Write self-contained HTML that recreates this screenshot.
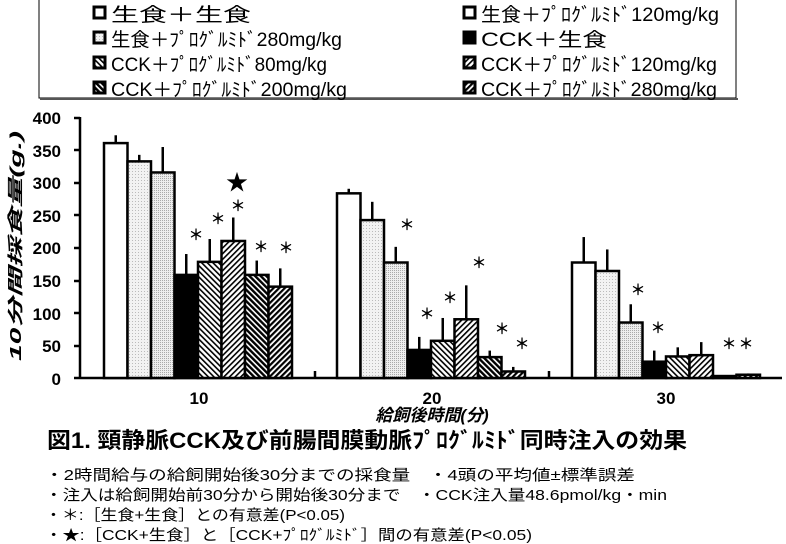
<!DOCTYPE html>
<html><head><meta charset="utf-8"><style>
body{margin:0;background:#fff;width:786px;height:544px;overflow:hidden}
svg{display:block}
text{font-family:"Liberation Sans","Noto Sans CJK JP",sans-serif;fill:#000}
</style></head><body>
<svg width="786" height="544" viewBox="0 0 786 544" xmlns="http://www.w3.org/2000/svg">
<defs>
<pattern id="d1" width="3" height="3" patternUnits="userSpaceOnUse"><rect width="3" height="3" fill="#f2f2f2"/><rect width="1" height="1" fill="#bbb"/></pattern>
<pattern id="d2" width="2" height="2" patternUnits="userSpaceOnUse"><rect width="2" height="2" fill="#eee"/><rect width="1" height="1" fill="#aaa"/></pattern>
<pattern id="h1" width="4" height="4" patternUnits="userSpaceOnUse" patternTransform="rotate(-45)"><rect width="4" height="4" fill="#fff"/><rect width="1.6" height="4" fill="#000"/></pattern>
<pattern id="h2" width="4" height="4" patternUnits="userSpaceOnUse" patternTransform="rotate(45)"><rect width="4" height="4" fill="#fff"/><rect width="1.6" height="4" fill="#000"/></pattern>
<pattern id="h3" width="4" height="4" patternUnits="userSpaceOnUse" patternTransform="rotate(-45)"><rect width="4" height="4" fill="#fff"/><rect width="2.4" height="4" fill="#000"/></pattern>
<pattern id="h4" width="4" height="4" patternUnits="userSpaceOnUse" patternTransform="rotate(45)"><rect width="4" height="4" fill="#fff"/><rect width="2.2" height="4" fill="#000"/></pattern>
</defs>
<!-- legend -->
<rect x="39" y="-2" width="697" height="100" fill="#fff" stroke="#000" stroke-width="1"/>
<line x1="40" y1="99" x2="738" y2="99" stroke="#555" stroke-width="2"/>
<g font-size="19">
<rect x="94" y="7" width="11" height="11" fill="#fff" stroke="#000" stroke-width="3"/>
<text x="111" y="21" textLength="140" lengthAdjust="spacingAndGlyphs">生食＋生食</text>
<rect x="94" y="32" width="11" height="11" fill="url(#d1)" stroke="#000" stroke-width="3"/>
<text x="111" y="46" textLength="231" lengthAdjust="spacingAndGlyphs">生食＋ﾌﾟﾛｸﾞﾙﾐﾄﾞ280mg/kg</text>
<rect x="94" y="57" width="11" height="11" fill="url(#h1)" stroke="#000" stroke-width="3"/>
<text x="111" y="71" textLength="216" lengthAdjust="spacingAndGlyphs">CCK＋ﾌﾟﾛｸﾞﾙﾐﾄﾞ80mg/kg</text>
<rect x="94" y="82" width="11" height="11" fill="url(#h3)" stroke="#000" stroke-width="3"/>
<text x="111" y="96" textLength="236" lengthAdjust="spacingAndGlyphs">CCK＋ﾌﾟﾛｸﾞﾙﾐﾄﾞ200mg/kg</text>
<rect x="464" y="7" width="11" height="11" fill="#fff" stroke="#000" stroke-width="3"/>
<text x="481" y="21" textLength="238" lengthAdjust="spacingAndGlyphs">生食＋ﾌﾟﾛｸﾞﾙﾐﾄﾞ120mg/kg</text>
<rect x="464" y="32" width="11" height="11" fill="#000" stroke="#000" stroke-width="3"/>
<text x="481" y="46" textLength="126" lengthAdjust="spacingAndGlyphs">CCK＋生食</text>
<rect x="464" y="57" width="11" height="11" fill="url(#h2)" stroke="#000" stroke-width="3"/>
<text x="481" y="71" textLength="236" lengthAdjust="spacingAndGlyphs">CCK＋ﾌﾟﾛｸﾞﾙﾐﾄﾞ120mg/kg</text>
<rect x="464" y="82" width="11" height="11" fill="url(#h4)" stroke="#000" stroke-width="3"/>
<text x="481" y="96" textLength="236" lengthAdjust="spacingAndGlyphs">CCK＋ﾌﾟﾛｸﾞﾙﾐﾄﾞ280mg/kg</text>
</g>
<!-- y axis -->
<g font-size="17" font-weight="bold" text-anchor="end">
<text x="61" y="124">400</text><text x="61" y="157">350</text><text x="61" y="189">300</text>
<text x="61" y="222">250</text><text x="61" y="254">200</text><text x="61" y="287">150</text>
<text x="61" y="320">100</text><text x="61" y="352">50</text><text x="61" y="385">0</text>
</g>
<g stroke="#000" stroke-width="2.5">
<line x1="80" y1="117" x2="80" y2="379"/>
<line x1="74" y1="118" x2="80" y2="118"/><line x1="74" y1="150" x2="80" y2="150"/><line x1="74" y1="183" x2="80" y2="183"/>
<line x1="74" y1="215" x2="80" y2="215"/><line x1="74" y1="248" x2="80" y2="248"/><line x1="74" y1="281" x2="80" y2="281"/>
<line x1="74" y1="313" x2="80" y2="313"/><line x1="74" y1="346" x2="80" y2="346"/>
<line x1="74" y1="378" x2="782" y2="378"/>
<line x1="315" y1="371" x2="315" y2="378"/><line x1="549" y1="371" x2="549" y2="378"/>
</g>
<text transform="translate(21,246) rotate(-90)" font-size="16" font-weight="bold" font-style="italic" text-anchor="middle" textLength="230" lengthAdjust="spacingAndGlyphs">10分間採食量(g.)</text>
<g id="bars" stroke="#000" stroke-width="2.5"></g>
<g font-size="17" font-weight="bold" text-anchor="middle">
<text x="199" y="404">10</text><text x="432" y="404">20</text><text x="666" y="404">30</text>
<text x="432" y="421" font-style="italic">給飼後時間(分)</text>
</g>
<g font-size="15" font-weight="bold" text-anchor="middle" font-family="'Noto Sans CJK JP',sans-serif">
<text x="196" y="240">＊</text><text x="218" y="224">＊</text><text x="238" y="211">＊</text><text x="261" y="252">＊</text><text x="286" y="253">＊</text>
<text x="407" y="230">＊</text><text x="427" y="319">＊</text><text x="450" y="303">＊</text><text x="479" y="268">＊</text><text x="502" y="334">＊</text><text x="522" y="349">＊</text>
<text x="638" y="295">＊</text><text x="658" y="333">＊</text><text x="729" y="349">＊</text><text x="746" y="349">＊</text>
</g>
<text x="237" y="190" font-size="22" text-anchor="middle" font-family="'DejaVu Sans',sans-serif">★</text>
<g>
<text x="47" y="448" font-size="22" font-weight="bold" textLength="640" lengthAdjust="spacingAndGlyphs">図1. 頸静脈CCK及び前腸間膜動脈ﾌﾟﾛｸﾞﾙﾐﾄﾞ同時注入の効果</text>
<text x="45" y="480" font-size="15" textLength="590" lengthAdjust="spacingAndGlyphs">・2時間給与の給飼開始後30分までの採食量　・4頭の平均値±標準誤差</text>
<text x="45" y="500" font-size="15" textLength="622" lengthAdjust="spacingAndGlyphs">・注入は給飼開始前30分から開始後30分まで　・CCK注入量48.6pmol/kg・min</text>
<text x="45" y="520" font-size="15" textLength="300" lengthAdjust="spacingAndGlyphs">・＊:［生食+生食］との有意差(P&lt;0.05)</text>
<text x="45" y="540" font-size="15" textLength="487" lengthAdjust="spacingAndGlyphs">・★:［CCK+生食］と［CCK+ﾌﾟﾛｸﾞﾙﾐﾄﾞ］間の有意差(P&lt;0.05)</text>
</g>
</svg>
<script>
var fills=["#fff","url(#d1)","url(#d2)","#000","url(#h1)","url(#h2)","url(#h3)","url(#h4)"];
var starts=[104,337,572],w=23.5;
var vals=[[360,332,315,158,178,210,158,140],[283,242,177,43,57,90,32,10],[177,164,85,25,33,35,3,5]];
var tops=[[372,342,354,190,213,246,180,168],[290,270,201,63,92,142,42,17],[216,197,113,42,47,55,4,7]];
var g=document.getElementById('bars'),s='';
function y(v){return 378-v*0.6525;}
for(var i=0;i<3;i++)for(var j=0;j<8;j++){var x=starts[i]+j*w,cx=x+w/2;
s+='<line x1="'+cx+'" y1="'+y(tops[i][j])+'" x2="'+cx+'" y2="'+y(vals[i][j])+'"/>';
s+='<rect x="'+x+'" y="'+y(vals[i][j])+'" width="'+w+'" height="'+(vals[i][j]*0.6525)+'" fill="'+fills[j]+'"/>';}
g.innerHTML=s;
</script>
</body></html>
